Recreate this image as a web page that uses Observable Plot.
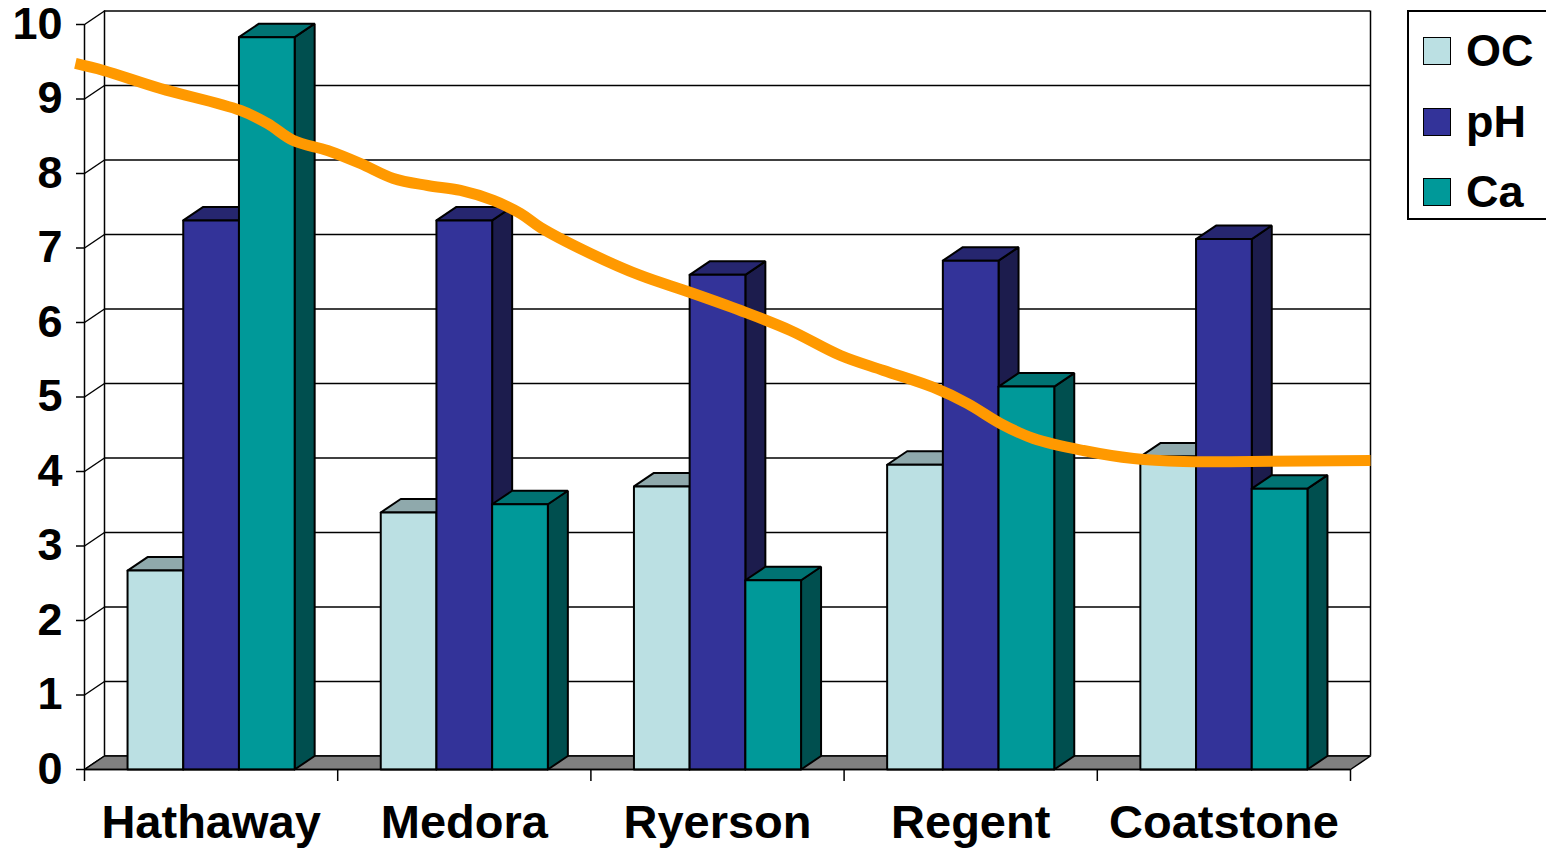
<!DOCTYPE html>
<html>
<head>
<meta charset="utf-8">
<script src="https://cdn.jsdelivr.net/npm/d3@7"></script>
<script src="https://cdn.jsdelivr.net/npm/@observablehq/plot@0.6"></script>
<style>
  html, body { margin: 0; padding: 0; background: #fff; overflow: hidden; }
  #wrap { position: relative; width: 1546px; height: 849px; }
  #legend { position: absolute; left: 1407px; top: 10px; width: 160px; height: 210px;
    border: 2px solid #000; box-sizing: border-box; background: #fff;
    font-family: "Liberation Sans", Arial, sans-serif; font-weight: bold; font-size: 45px; }
  .item { position: absolute; left: 14px; display: flex; align-items: center; height: 50px; }
  .sw { width: 28px; height: 28px; border: 1.5px solid #000; box-sizing: border-box; margin-right: 15px; }
</style>
</head>
<body>
<div id="wrap"><div id="chart"></div><div id="legend"></div></div>
<script>
// ---- data ----
const categories = ["Hathaway", "Medora", "Ryerson", "Regent", "Coatstone"];
const seriesNames = ["OC", "pH", "Ca"];
const ocValues = [2.67, 3.45, 3.80, 4.09, 4.20];
const phValues = [7.37, 7.37, 6.64, 6.83, 7.12];
const caValues = [9.83, 3.56, 2.54, 5.14, 3.77];
const yTicks = [0, 1, 2, 3, 4, 5, 6, 7, 8, 9, 10];
// orange trend curve (x in category positions, y in axis units)
const trendX = [-0.536, -0.425, -0.200, 0.116, 0.223, 0.325, 0.460, 0.590, 0.720, 0.855, 0.985, 1.115, 1.222, 1.301, 1.498, 1.696, 1.893, 2.091, 2.288, 2.486, 2.656, 2.853, 2.987, 3.118, 3.248, 3.445, 3.643, 3.840, 4.105, 4.579];
const trendY = [9.477, 9.383, 9.141, 8.846, 8.671, 8.443, 8.309, 8.134, 7.933, 7.839, 7.772, 7.638, 7.463, 7.275, 6.926, 6.631, 6.403, 6.161, 5.893, 5.557, 5.356, 5.128, 4.913, 4.644, 4.443, 4.282, 4.174, 4.134, 4.134, 4.148];

// ---- styles ----
const frontColors = ["#BBE0E3", "#333399", "#009999"];
const topColors = ["#8FA9AC", "#26266F", "#007373"];
const sideColors = ["#5F7779", "#1C1C4D", "#004F4F"];
const font = '"Liberation Sans", Arial, sans-serif';

// ---- layout ----
const W = 1546, H = 849;
const mL = 84, mR = 196, mT = 24, mB = 80;
const xUnit = (W - mL - mR) / 5;      // px per category
const yUnit = (H - mT - mB) / 10;     // px per value unit
const depthPxX = 20, depthPxY = 13.5;
const dX = depthPxX / xUnit, dY = depthPxY / yUnit;
const barW = 0.22;

const allValues = [ocValues, phValues, caValues];
function poly(id, pts) {
  return pts.concat([pts[0]]).map(([x, y]) => ({id, x, y}));
}
const faceMarks = [];
seriesNames.forEach((s, j) => {
  const front = [], top = [], side = [];
  categories.forEach((c, i) => {
    const v = allValues[j][i];
    const x1 = i - 1.5 * barW + j * barW, x2 = x1 + barW;
    side.push(...poly(`${s}-${c}`, [[x2, 0], [x2 + dX, dY], [x2 + dX, v + dY], [x2, v]]));
    top.push(...poly(`${s}-${c}`, [[x1, v], [x2, v], [x2 + dX, v + dY], [x1 + dX, v + dY]]));
    front.push(...poly(`${s}-${c}`, [[x1, 0], [x2, 0], [x2, v], [x1, v]]));
  });
  for (const [data, col] of [[side, sideColors[j]], [top, topColors[j]], [front, frontColors[j]]]) {
    faceMarks.push(Plot.line(data, {x: "x", y: "y", z: "id", fill: col, stroke: "#000", strokeWidth: 2, strokeLinejoin: "miter", curve: "linear"}));
  }
});

const floor = poly("floor", [[-0.5, 0], [4.5, 0], [4.5 + dX, dY], [-0.5 + dX, dY]]);
const trend = trendX.map((x, i) => ({x, y: trendY[i]}));
const xBounds = d3.range(6).map(i => i - 0.5);

const plot = Plot.plot({
  width: W, height: H,
  marginLeft: mL, marginRight: mR, marginTop: mT, marginBottom: mB,
  x: {domain: [-0.5, 4.5]},
  y: {domain: [0, 10]},
  style: {fontFamily: font, fontWeight: "bold", background: "#fff", overflow: "visible"},
  marks: [
    // back wall grid
    Plot.ruleY(yTicks, {x1: -0.5, x2: 4.5, dx: depthPxX, dy: -depthPxY, stroke: "#000", strokeWidth: 1.5}),
    Plot.ruleX([-0.5, 4.5], {y1: 0, y2: 10, dx: depthPxX, dy: -depthPxY, stroke: "#000", strokeWidth: 1.5}),
    // left side wall
    Plot.link(yTicks, {x1: -0.5, y1: d => d, x2: -0.5 + dX, y2: d => d + dY, stroke: "#000", strokeWidth: 1.5}),
    Plot.ruleX([-0.5], {y1: 0, y2: 10, stroke: "#000", strokeWidth: 1.5}),
    // floor
    Plot.line(floor, {x: "x", y: "y", z: "id", fill: "#808080", stroke: "#000", strokeWidth: 1.5}),
    ...faceMarks,
    Plot.ruleY([0], {x1: -0.5, x2: 4.5, stroke: "#000", strokeWidth: 1.5}),
    // trend line
    Plot.line(trend, {x: "x", y: "y", stroke: "#FF9900", strokeWidth: 11, curve: "catmull-rom", strokeLinecap: "butt"}),
    // axes
    Plot.axisY({ticks: yTicks, tickSize: 8, tickPadding: 14, fontSize: 45, fontWeight: "bold", fill: "#000", stroke: "#000", strokeWidth: 1.5, label: null}),
    Plot.axisX({ticks: xBounds, tickSize: 12, tickFormat: () => "", stroke: "#000", strokeWidth: 1.5, label: null}),
    Plot.axisX({ticks: [0, 1, 2, 3, 4], tickSize: 0, tickPadding: 35, tickFormat: i => categories[i], fontSize: 47, fontWeight: "bold", fill: "#000", label: null})
  ]
});
document.getElementById("chart").appendChild(plot);

// legend
const legend = document.getElementById("legend");
seriesNames.forEach((s, j) => {
  const it = document.createElement("div");
  it.className = "item";
  it.style.top = (14 + j * 70.5) + "px";
  it.innerHTML = `<div class="sw" style="background:${frontColors[j]}"></div><span>${s}</span>`;
  legend.appendChild(it);
});
</script>
</body>
</html>
